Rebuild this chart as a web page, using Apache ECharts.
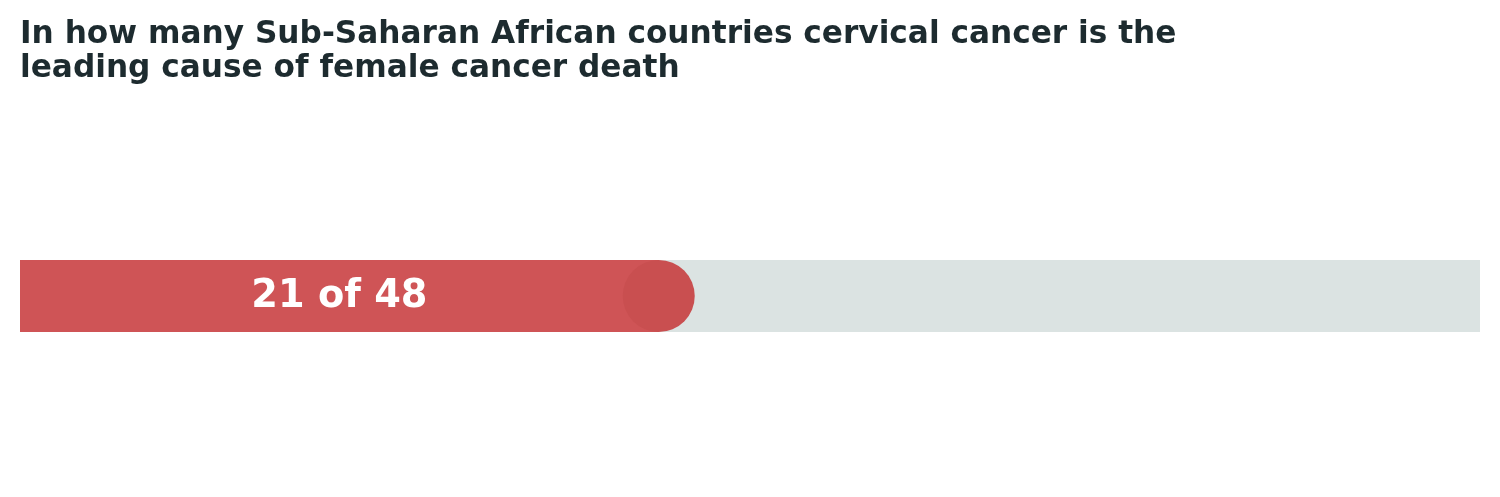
<!DOCTYPE html>
<html><head><meta charset="utf-8">
<script src="https://cdn.jsdelivr.net/npm/echarts@6/dist/echarts.min.js"></script>
<style>html,body{margin:0;padding:0;background:#fff}#c{width:1500px;height:497px}</style>
</head><body><div id="c"></div>
<script>
const categories = ['Sub-Saharan Africa'];
const leadingCount = [21];
const totalCount = [48];
const labelText = ['21 of 48'];

const chart = echarts.init(document.getElementById('c'));
chart.setOption({
  animation: false,
  title: {
    text: 'In how many Sub-Saharan African countries cervical cancer is the\nleading cause of female cancer death',
    left: 15, top: 13,
    textStyle: {fontFamily: 'DejaVu Sans', fontWeight: 'bold', fontSize: 31.2, lineHeight: 34, color: '#1d2b2f'}
  },
  grid: {left: 20, right: 20, top: 260, height: 72},
  xAxis: {type: 'value', min: 0, max: totalCount[0], show: false},
  yAxis: {type: 'category', data: categories, show: false},
  series: [
    {type: 'bar', data: totalCount, barWidth: 72, barGap: '-100%', itemStyle: {color: '#dbe3e2'}, silent: true},
    {type: 'bar', data: leadingCount, barWidth: 72, itemStyle: {color: '#cf5456'},
      label: {show: true, position: 'inside', offset: [0, 1], formatter: () => labelText[0], color: '#fff',
        fontFamily: 'DejaVu Sans', fontWeight: 'bold', fontSize: 38.3}},
    {type: 'scatter', data: leadingCount.map((v, i) => [v, categories[i]]), symbolSize: 72,
      itemStyle: {color: '#c94f50', opacity: 1}, z: 5}
  ]
});
</script></body></html>
